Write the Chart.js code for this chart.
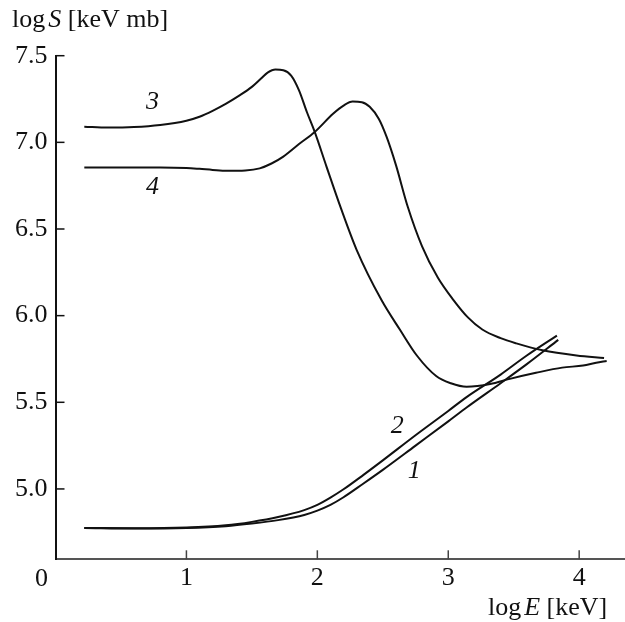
<!DOCTYPE html>
<html>
<head>
<meta charset="utf-8">
<script src="https://cdn.jsdelivr.net/npm/chart.js@4/dist/chart.umd.min.js"></script>
<style>
  html, body { margin: 0; padding: 0; background: #fff; }
  #wrap { width: 625px; height: 622px; }
</style>
</head>
<body>
<div id="wrap"><canvas id="s-chart" width="625" height="622"></canvas></div>
<script>
// Dados: log E [keV] e log S [keV mb]
const xTickValues = [0, 1, 2, 3, 4];
const yTickValues = [5.0, 5.5, 6.0, 6.5, 7.0, 7.5];

const curve1E = [0.22, 0.6, 1.0, 1.3, 1.5, 1.7, 1.9, 2.0, 2.1, 2.2, 2.35, 2.5, 2.75, 3.0, 3.14, 3.4, 3.6, 3.84];
const curve1S = [4.775, 4.772, 4.775, 4.785, 4.80, 4.82, 4.85, 4.875, 4.908, 4.952, 5.03, 5.11, 5.25, 5.39, 5.47, 5.61, 5.72, 5.86];

const curve2E = [0.22, 0.6, 1.0, 1.3, 1.5, 1.7, 1.9, 2.0, 2.1, 2.2, 2.35, 2.5, 2.75, 3.0, 3.14, 3.4, 3.6, 3.83];
const curve2S = [4.775, 4.773, 4.777, 4.79, 4.81, 4.838, 4.878, 4.908, 4.95, 4.998, 5.08, 5.165, 5.31, 5.45, 5.53, 5.66, 5.77, 5.885];

const curve3E = [0.22, 0.4, 0.6, 0.8, 1.0, 1.1, 1.2, 1.3, 1.4, 1.5, 1.57, 1.62, 1.68, 1.74, 1.80, 1.86, 1.92, 1.98, 2.07, 2.18, 2.3, 2.49, 2.63, 2.76, 2.91, 3.02, 3.14, 3.32, 3.47, 3.67, 3.87, 4.03, 4.13, 4.21];
const curve3S = [7.09, 7.085, 7.088, 7.10, 7.125, 7.148, 7.182, 7.222, 7.268, 7.32, 7.368, 7.402, 7.42, 7.416, 7.385, 7.30, 7.175, 7.06, 6.86, 6.62, 6.38, 6.09, 5.92, 5.77, 5.65, 5.61, 5.59, 5.605, 5.635, 5.67, 5.70, 5.712, 5.728, 5.738];

const curve4E = [0.22, 0.5, 0.8, 1.0, 1.1, 1.2, 1.31, 1.45, 1.56, 1.65, 1.74, 1.86, 1.98, 2.12, 2.2, 2.27, 2.34, 2.40, 2.47, 2.53, 2.60, 2.69, 2.8, 2.92, 3.04, 3.15, 3.26, 3.4, 3.52, 3.72, 3.98, 4.19];
const curve4S = [6.855, 6.855, 6.855, 6.852, 6.847, 6.841, 6.836, 6.838, 6.85, 6.878, 6.918, 6.99, 7.06, 7.165, 7.212, 7.235, 7.232, 7.205, 7.135, 7.03, 6.87, 6.63, 6.40, 6.22, 6.09, 5.99, 5.92, 5.87, 5.84, 5.80, 5.77, 5.755];

const curveNames = ['1', '2', '3', '4'];

// onde ficam os números das curvas (em coordenadas do gráfico)
const nameSpots = [
  { x: 2.74, y: 5.10 },
  { x: 2.61, y: 5.36 },
  { x: 0.74, y: 7.23 },
  { x: 0.74, y: 6.74 }
];

const serif = '"Liberation Serif", "DejaVu Serif", serif';
const fontSize = 26;

function toPoints(es, ss) {
  return es.map(function(e, i) { return { x: e, y: ss[i] }; });
}

// Plugin para ticks internos, rótulos e títulos dos eixos
const decorPlugin = {
  id: 'decor',
  afterDraw(chart) {
    const ctx = chart.ctx;
    const xs = chart.scales.x;
    const ys = chart.scales.y;
    const area = chart.chartArea;
    ctx.save();

    ctx.strokeStyle = '#111';
    ctx.lineWidth = 1.5;
    yTickValues.forEach(function(v) {
      const py = ys.getPixelForValue(v);
      ctx.beginPath();
      ctx.moveTo(area.left, py);
      ctx.lineTo(area.left + 9, py);
      ctx.stroke();
    });
    ctx.strokeStyle = '#444';
    xTickValues.slice(1).forEach(function(v) {
      const px = xs.getPixelForValue(v);
      ctx.beginPath();
      ctx.moveTo(px, area.bottom);
      ctx.lineTo(px, area.bottom - 9);
      ctx.stroke();
    });

    ctx.fillStyle = '#111';
    ctx.textBaseline = 'alphabetic';
    ctx.textAlign = 'center';
    ctx.font = fontSize + 'px ' + serif;
    // o zero fica no canto, à esquerda do eixo
    ctx.fillText('0', area.left - 14, 586);

    // títulos com letra em itálico
    function drawMixed(parts, x, y) {
      let cx = x;
      ctx.textAlign = 'left';
      parts.forEach(function(p) {
        ctx.font = (p.italic ? 'italic ' : '') + fontSize + 'px ' + serif;
        ctx.fillText(p.t, cx, y);
        cx += ctx.measureText(p.t).width + (p.gap || 0);
      });
    }
    drawMixed([{ t: 'log', gap: 3 }, { t: 'S', italic: true }, { t: ' [keV mb]' }], 12, 27);
    drawMixed([{ t: 'log', gap: 3 }, { t: 'E', italic: true }, { t: ' [keV]' }], 488, 615);

    ctx.textAlign = 'center';
    ctx.textBaseline = 'middle';
    ctx.font = 'italic ' + fontSize + 'px ' + serif;
    curveNames.forEach(function(name, i) {
      ctx.fillText(name, xs.getPixelForValue(nameSpots[i].x), ys.getPixelForValue(nameSpots[i].y));
    });
    ctx.restore();
  }
};

const lineStyle = {
  borderColor: '#111',
  borderWidth: 2,
  pointRadius: 0,
  showLine: true,
  fill: false,
  cubicInterpolationMode: 'monotone'
};

const sChart = new Chart(document.getElementById('s-chart').getContext('2d'), {
  type: 'scatter',
  data: {
    datasets: [
      Object.assign({ label: '1', data: toPoints(curve1E, curve1S) }, lineStyle),
      Object.assign({ label: '2', data: toPoints(curve2E, curve2S) }, lineStyle),
      Object.assign({ label: '3', data: toPoints(curve3E, curve3S) }, lineStyle),
      Object.assign({ label: '4', data: toPoints(curve4E, curve4S) }, lineStyle)
    ]
  },
  options: {
    responsive: false,
    animation: false,
    layout: { padding: { top: 55.7, right: 0, left: 0, bottom: 0 } },
    plugins: {
      legend: { display: false },
      tooltip: { enabled: false }
    },
    scales: {
      x: {
        type: 'linear',
        min: 0,
        max: 4.35,
        afterBuildTicks: function(axis) {
          axis.ticks = xTickValues.map(function(v) { return { value: v }; });
        },
        afterFit: function(axis) { axis.height = 62.7; },
        grid: { display: false, drawTicks: false },
        border: { display: true, color: '#555', width: 2 },
        ticks: {
          padding: 3,
          color: '#111',
          font: { family: serif, size: fontSize },
          callback: function(v) { return v === 0 ? '' : String(v); }
        }
      },
      y: {
        type: 'linear',
        min: 4.594,
        max: 7.5,
        afterBuildTicks: function(axis) {
          axis.ticks = yTickValues.map(function(v) { return { value: v }; });
        },
        afterFit: function(axis) { axis.width = 55.5; },
        grid: { display: false, drawTicks: false },
        border: { display: true, color: '#111', width: 2 },
        ticks: {
          padding: 8,
          color: '#111',
          font: { family: serif, size: fontSize },
          callback: function(v) { return v.toFixed(1); }
        }
      }
    }
  },
  plugins: [decorPlugin]
});
</script>
</body>
</html>
